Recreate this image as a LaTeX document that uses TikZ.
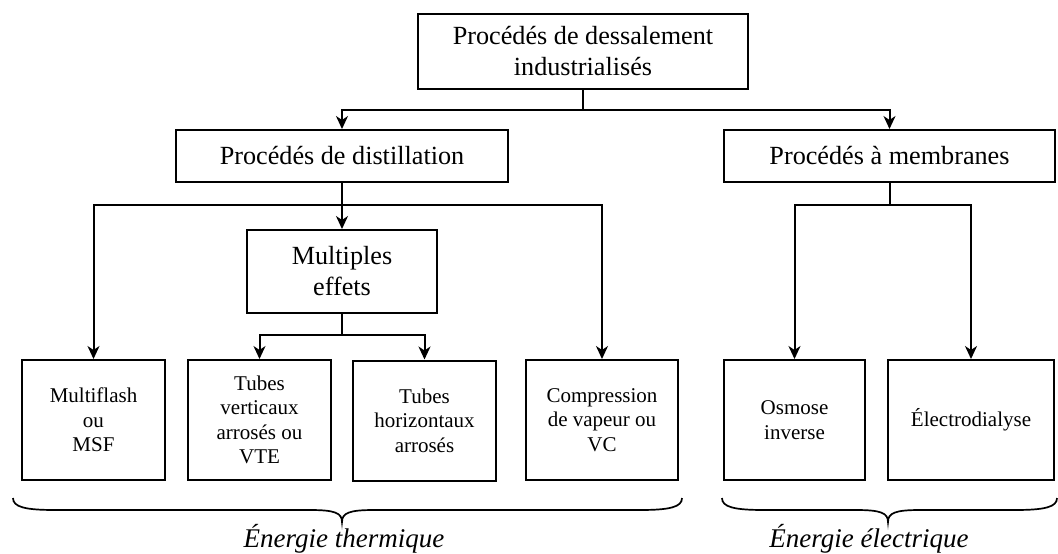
\documentclass[tikz,border=0pt]{standalone}
\usepackage{fontspec}
\setmainfont{Liberation Serif}
\usetikzlibrary{arrows.meta}
\begin{document}
\begin{tikzpicture}[x=1pt,y=-1pt,
  box/.style={draw, line width=2pt, inner sep=0pt, align=center},
  bigtxt/.style={font=\fontsize{26.2}{31}\selectfont},
  smalltxt/.style={font=\fontsize{21}{24.5}\selectfont},
  conn/.style={line width=2pt},
  arr/.style={conn, -{Stealth[length=13pt,width=12pt,inset=4pt]}},
  bracestyle/.style={line width=1.7pt},
  lbl/.style={font=\fontsize{27}{30}\selectfont\itshape}]
\useasboundingbox (0,0) rectangle (1058,554);
% boxes
\node[box,bigtxt,minimum width=330pt,minimum height=75pt] (top) at (583,51.5) {Procédés de dessalement\\industrialisés};
\node[box,bigtxt,minimum width=332pt,minimum height=52pt] (dist) at (342,156) {Procédés de distillation};
\node[box,bigtxt,minimum width=331pt,minimum height=52pt] (memb) at (889.5,156) {Procédés à membranes};
\node[box,bigtxt,minimum width=190pt,minimum height=83pt] (me) at (342,271.5) {Multiples\\effets};
\node[box,smalltxt,minimum width=143pt,minimum height=120pt] (mf) at (93.5,420) {Multiflash\\ou\\MSF};
\node[box,smalltxt,minimum width=143pt,minimum height=120pt] (tv) at (259.5,420) {Tubes\\verticaux\\arrosés ou\\VTE};
\node[box,smalltxt,minimum width=143pt,minimum height=120pt] (th) at (424.5,420.5) {Tubes\\horizontaux\\arrosés};
\node[box,smalltxt,minimum width=152pt,minimum height=120pt] (comp) at (602,420) {Compression\\de vapeur ou\\VC};
\node[box,smalltxt,minimum width=141pt,minimum height=120pt] (os) at (794.5,420) {Osmose\\inverse};
\node[box,smalltxt,minimum width=166pt,minimum height=120pt] (el) at (971,420) {Électrodialyse};
% connectors
\coordinate (j1) at (583,110);
\coordinate (j2) at (342,205);
\coordinate (j3) at (342,335);
\coordinate (j4) at (889.5,205);
\draw[conn] (top.south) -- (j1);
\draw[arr] (j1) -| (dist.north);
\draw[arr] (j1) -| (memb.north);
\draw[conn] (dist.south) -- (j2);
\draw[arr] (j2) -- (me.north);
\draw[arr] (j2) -| (mf.north);
\draw[arr] (j2) -| (comp.north);
\draw[conn] (me.south) -- (j3);
\draw[arr] (j3) -| (tv.north);
\draw[arr] (j3) -| (th.north);
\draw[conn] (memb.south) -- (j4);
\draw[arr] (j4) -| (os.north);
\draw[arr] (j4) -| (el.north);
% braces
\draw[bracestyle] (13,498) .. controls (13,507) and (25,510) .. (55,510)
  -- (310,510) .. controls (335,510) and (342,513) .. (342,522)
  .. controls (342,513) and (349,510) .. (374,510)
  -- (640,510) .. controls (670,510) and (682,507) .. (682,498);
\draw[bracestyle] (722,498) .. controls (722,507) and (734,510) .. (764,510)
  -- (856,510) .. controls (881,510) and (888,513) .. (888,522)
  .. controls (888,513) and (895,510) .. (920,510)
  -- (1015,510) .. controls (1045,510) and (1057,507) .. (1057,498);
\node[lbl] (lt) at (344,538.5) {Énergie thermique};
\node[lbl] (le) at (869,538.5) {Énergie électrique};
\end{tikzpicture}
\end{document}
